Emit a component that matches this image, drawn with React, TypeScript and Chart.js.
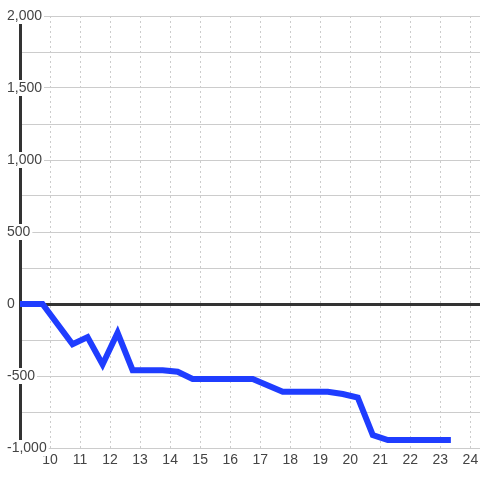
import React, { useEffect, useRef } from "react";
import { Chart, registerables } from "chart.js";

Chart.register(...registerables);

const xValues = [8.75, 9.75, 10.75, 11.25, 11.75, 12.25, 12.75, 13.75, 14.25, 14.75, 16.75, 17.75, 19.25, 19.75, 20.25, 20.75, 21.25, 23.25];
const yValues = [0, 0, -280, -230, -420, -200, -460, -460, -470, -520, -520, -610, -610, -625, -650, -910, -945, -945];
const xTicks = [10, 11, 12, 13, 14, 15, 16, 17, 18, 19, 20, 21, 22, 23, 24];
const yMin = -1000;
const yMax = 2000;
const yLabelStep = 500;

const FONT = "'Liberation Sans', Arial, sans-serif";

export default function App() {
  const ref = useRef<HTMLCanvasElement | null>(null);

  useEffect(() => {
    document.body.style.margin = "0";
    const canvas = ref.current!;
    const chart = new Chart(canvas, {
      type: "line",
      data: {
        datasets: [
          {
            data: xValues.map((x, i) => ({ x, y: yValues[i] })),
            borderColor: "#1f3dff",
            backgroundColor: "#1f3dff",
            borderWidth: 6,
            pointRadius: 0,
            tension: 0,
            borderCapStyle: "square",
            borderJoinStyle: "miter",
          },
        ],
      },
      options: {
        responsive: false,
        animation: false,
        layout: { padding: { left: 20, top: 16, right: 0, bottom: 7.2 } },
        plugins: { legend: { display: false }, tooltip: { enabled: false } },
        scales: {
          x: {
            type: "linear",
            min: 9,
            max: 24.32,
            afterBuildTicks: (scale: any) => {
              scale.ticks = xTicks.map((v) => ({ value: v }));
            },
            afterFit: (scale: any) => {
              scale.paddingLeft = 0;
              scale.paddingRight = 0;
            },
            grid: { color: "#cccccc", lineWidth: 1, drawTicks: false },
            border: { display: false, dash: [2, 3] },
            ticks: {
              color: "#444444",
              font: { family: FONT, size: 14 },
              padding: 4,
              maxRotation: 0,
              autoSkip: false,
              callback: (v: any) => String(v),
            },
          },
          y: {
            type: "linear",
            min: yMin,
            max: yMax,
            afterFit: (scale: any) => {
              scale.width = 0;
            },
            grid: {
              drawTicks: false,
              color: (ctx: any) => (ctx.tick && ctx.tick.value === 0 ? "#333333" : "#cccccc"),
              lineWidth: (ctx: any) => (ctx.tick && ctx.tick.value === 0 ? 3 : 1),
            },
            border: { display: true, color: "#333333", width: 3 },
            ticks: {
              stepSize: 250,
              autoSkip: false,
              mirror: true,
              crossAlign: "near",
              padding: -13,
              color: "#444444",
              font: { family: FONT, size: 14, lineHeight: 1 },
              showLabelBackdrop: (ctx: any) => ctx.tick && ctx.tick.value % yLabelStep === 0,
              backdropColor: "#ffffff",
              backdropPadding: { top: 1, bottom: 1, left: 2, right: 2 },
              callback: (v: any) => (Number(v) % yLabelStep === 0 ? Number(v).toLocaleString("en-US") : ""),
            },
          },
        },
      },
    } as any);
    return () => chart.destroy();
  }, []);

  return (
    <div style={{ width: 480, height: 480 }}>
      <canvas ref={ref} width={480} height={480} />
    </div>
  );
}
